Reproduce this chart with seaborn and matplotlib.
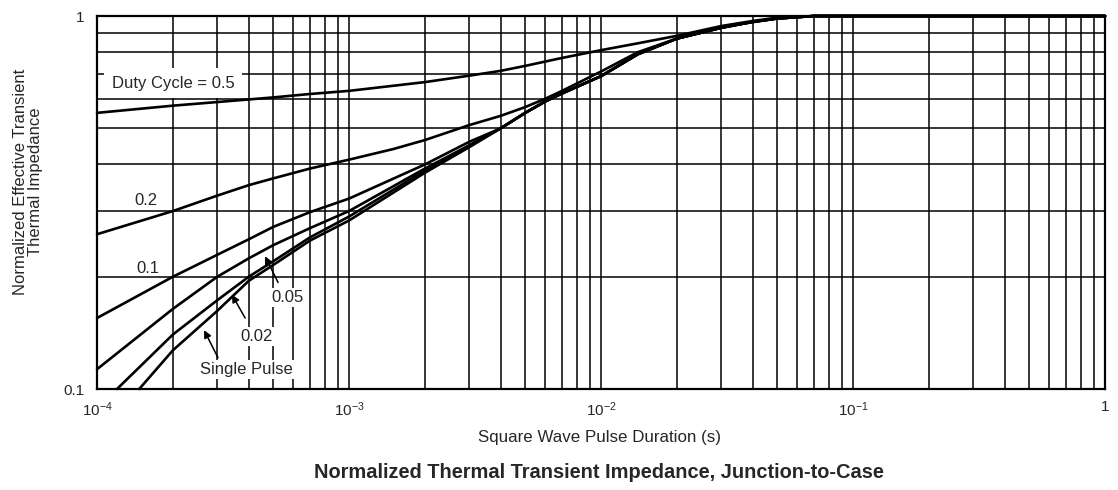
import numpy as np
import pandas as pd
import matplotlib
matplotlib.use("Agg")
import matplotlib.pyplot as plt
import matplotlib.ticker as mticker
import seaborn as sns

# 讀圖估計的曲線資料 (x: 脈衝時間 s, y: 正規化暫態熱阻)
# 0.1 以下各曲線在 3e-3 之後合併成同一條
tail_t = [4e-3, 5e-3, 6e-3, 7e-3, 1e-2, 1.4e-2, 2e-2, 3e-2, 4e-2, 5e-2, 7e-2, 1e-1, 1.0]
tail_z = [0.50, 0.55, 0.59, 0.62, 0.69, 0.79, 0.87, 0.93, 0.965, 0.985, 1.0, 1.0, 1.0]

t_d05 = [1e-4, 2e-4, 3e-4, 5e-4, 7e-4, 1e-3, 2e-3, 3e-3, 4e-3, 5e-3, 7e-3, 1e-2, 1.4e-2,
         2e-2, 3e-2, 4e-2, 5e-2, 7e-2, 1e-1, 1.0]
z_d05 = [0.55, 0.575, 0.588, 0.605, 0.618, 0.63, 0.665, 0.692, 0.713, 0.735, 0.772, 0.81, 0.845,
         0.885, 0.94, 0.97, 0.99, 1.0, 1.0, 1.0]

t_d02 = [1e-4, 2e-4, 3e-4, 4e-4, 5e-4, 7e-4, 1e-3, 1.5e-3, 2e-3, 3e-3, 4e-3, 5e-3, 6e-3, 7e-3,
         1e-2, 1.4e-2, 2e-2, 3e-2, 5e-2, 7e-2, 1e-1, 1.0]
z_d02 = [0.26, 0.30, 0.33, 0.352, 0.367, 0.39, 0.412, 0.44, 0.465, 0.51, 0.54, 0.57, 0.60, 0.63,
         0.71, 0.80, 0.87, 0.935, 0.985, 1.0, 1.0, 1.0]

t_d01 = [1e-4, 2e-4, 3e-4, 4e-4, 5e-4, 7e-4, 1e-3, 2e-3, 3e-3] + tail_t
z_d01 = [0.155, 0.20, 0.229, 0.252, 0.272, 0.298, 0.324, 0.40, 0.46] + tail_z

t_d005 = [1e-4, 2e-4, 3e-4, 4e-4, 5e-4, 7e-4, 1e-3, 2e-3, 3e-3] + tail_t
z_d005 = [0.113, 0.164, 0.20, 0.224, 0.243, 0.27, 0.30, 0.39, 0.45] + tail_z

t_d002 = [1.2e-4, 2e-4, 3e-4, 4e-4, 5e-4, 7e-4, 1e-3, 2e-3, 3e-3] + tail_t
z_d002 = [0.10, 0.14, 0.173, 0.20, 0.22, 0.255, 0.29, 0.385, 0.45] + tail_z

t_single = [1.47e-4, 2e-4, 3e-4, 4e-4, 5e-4, 7e-4, 1e-3, 2e-3, 3e-3] + tail_t
z_single = [0.10, 0.127, 0.162, 0.195, 0.215, 0.25, 0.283, 0.38, 0.445] + tail_z

curve_names = ["0.5", "0.2", "0.1", "0.05", "0.02", "single"]
curve_t = [t_d05, t_d02, t_d01, t_d005, t_d002, t_single]
curve_z = [z_d05, z_d02, z_d01, z_d005, z_d002, z_single]

xtick_vals = [1e-4, 1e-3, 1e-2, 1e-1, 1]
xtick_labels = ["$10^{-4}$", "$10^{-3}$", "$10^{-2}$", "$10^{-1}$", "1"]
ytick_vals = [0.1, 1]
ytick_labels = ["0.1", "1"]

df = pd.concat([pd.DataFrame({"t": t, "z": z, "curve": n})
                for n, t, z in zip(curve_names, curve_t, curve_z)],
               ignore_index=True)

sns.set_style("white")
plt.rcParams["font.family"] = ["Liberation Sans", "DejaVu Sans"]
plt.rcParams["mathtext.fontset"] = "custom"
plt.rcParams["mathtext.rm"] = "Liberation Sans"
plt.rcParams["mathtext.default"] = "regular"

fig = plt.figure(figsize=(11.18, 4.90), dpi=100)
ax = fig.add_axes([0.0868, 0.2061, 0.9016, 0.7612])

sns.lineplot(data=df, x="t", y="z", units="curve", estimator=None,
             color="black", lw=1.9, ax=ax, clip_on=False, zorder=4)

ax.set_xscale("log")
ax.set_yscale("log")
ax.set_xlim(1e-4, 1)
ax.set_ylim(0.1, 1)

ax.xaxis.set_major_locator(mticker.FixedLocator(xtick_vals))
ax.xaxis.set_major_formatter(mticker.FixedFormatter(xtick_labels))
ax.xaxis.set_minor_locator(mticker.LogLocator(base=10, subs=np.arange(2, 10)))
ax.xaxis.set_minor_formatter(mticker.NullFormatter())
ax.yaxis.set_major_locator(mticker.FixedLocator(ytick_vals))
ax.yaxis.set_major_formatter(mticker.FixedFormatter(ytick_labels))
ax.yaxis.set_minor_locator(mticker.LogLocator(base=10, subs=np.arange(2, 10)))
ax.yaxis.set_minor_formatter(mticker.NullFormatter())

ax.tick_params(which="both", length=0)
ax.tick_params(axis="x", pad=8, labelsize=11)
ax.tick_params(axis="y", pad=9, labelsize=11)
ax.grid(which="both", color="black", lw=1.1)
ax.set_axisbelow(True)
for sp in ax.spines.values():
    sp.set_color("black")
    sp.set_linewidth(1.6)
ax.set_xlabel("")
ax.set_ylabel("")

# 曲線標籤（白底蓋住格線）
fs = 12
box = dict(facecolor="white", edgecolor="none", pad=1.5)
ax.text(2e-4, 0.661, "Duty Cycle = 0.5", fontsize=fs, ha="center", va="center",
        zorder=3, bbox=dict(facecolor="white", edgecolor="none",
                            boxstyle="square,pad=0.45"))
ax.text(1.56e-4, 0.32, "0.2", fontsize=fs, ha="center", va="center", zorder=3)
ax.text(1.59e-4, 0.211, "0.1", fontsize=fs, ha="center", va="center", zorder=3)
ax.text(5.72e-4, 0.176, "0.05", fontsize=fs, ha="center", va="center",
        zorder=3, bbox=box)
ax.text(4.31e-4, 0.138, "0.02", fontsize=fs, ha="center", va="center",
        zorder=3, bbox=box)
ax.text(3.93e-4, 0.113, "Single Pulse", fontsize=fs, ha="center", va="center",
        zorder=3, bbox=box)

arrow = dict(arrowstyle="-|>", color="black", lw=1.1, mutation_scale=11,
             shrinkA=0, shrinkB=0)
for tail, tip in [((3.02e-4, 0.1213), (2.66e-4, 0.1438)),
                  ((3.87e-4, 0.155), (3.43e-4, 0.179)),
                  ((5.23e-4, 0.193), (4.64e-4, 0.227))]:
    ax.annotate("", xy=tip, xytext=tail, arrowprops=arrow, zorder=5)

fig.text(28 / 1118, 1 - 182 / 490,
         "Normalized Effective Transient\nThermal Impedance",
         rotation=90, ha="center", va="center", fontsize=12, linespacing=1.0)
fig.text(600 / 1118, 1 - 437 / 490, "Square Wave Pulse Duration (s)",
         ha="center", va="center", fontsize=12.2)
fig.text(599 / 1118, 1 - 472 / 490,
         "Normalized Thermal Transient Impedance, Junction-to-Case",
         ha="center", va="center", fontsize=14.4, fontweight="bold")

fig.savefig("out.png", dpi=100, facecolor="white")
plt.close(fig)
